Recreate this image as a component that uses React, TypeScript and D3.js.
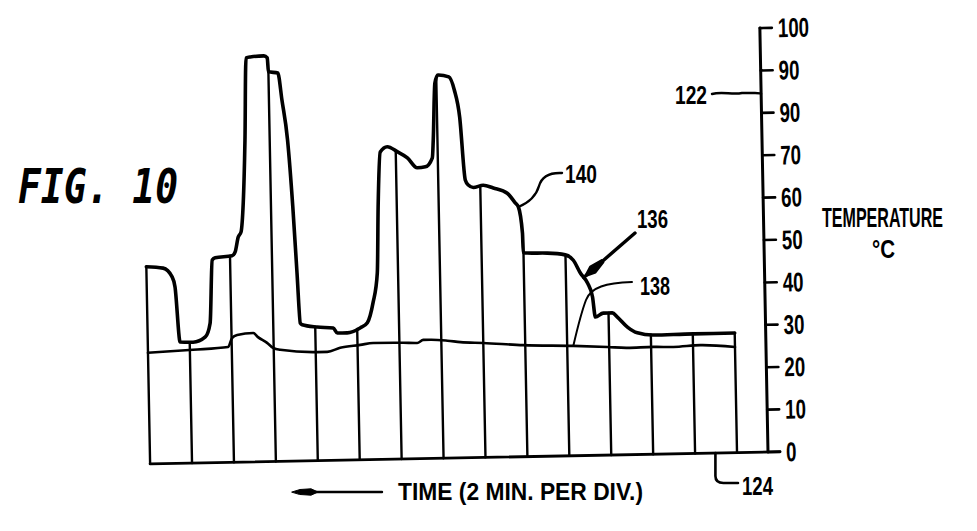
import React from "react";
import * as d3 from "d3";

// Upper trace (curve 136 / 140): time in minutes, temperature in °C
const upperTimes = [0, 0.8, 1.22, 1.35, 1.54, 2.16, 2.75, 2.99, 3.15, 3.29, 4.1, 4.25, 4.41, 4.55, 4.68, 4.82, 4.95, 5.15, 5.8, 5.96, 6.0, 6.45, 6.62, 6.85, 7.04, 7.18, 7.29, 7.38, 8.09, 8.86, 9.05, 9.52, 10.14, 10.49, 10.78, 11.01, 11.11, 11.26, 11.6, 12.07, 12.55, 13.01, 13.4, 13.74, 13.8, 13.93, 14.08, 14.6, 14.85, 15.08, 15.29, 15.43, 15.67, 16.14, 16.62, 17.28, 17.65, 17.8, 17.97, 17.99, 18.18, 19.14, 19.99, 20.37, 20.7, 21.02, 21.25, 21.37, 21.75, 22.18, 22.42, 22.89, 23.36, 24.12, 26.03, 28.0];
const upperValues = [46.5, 46.1, 44.0, 41.6, 28.6, 28.5, 29.7, 32.9, 47.8, 48.3, 48.7, 49.6, 53.1, 54.3, 61.1, 75.9, 95.3, 95.5, 95.7, 95.2, 91.9, 91.6, 85.2, 75.8, 60.0, 44.4, 32.5, 32.1, 31.5, 31.2, 30.0, 30.0, 31.1, 32.3, 37.0, 44.0, 59.6, 72.5, 73.7, 72.5, 71.0, 68.6, 68.8, 70.9, 75.1, 88.5, 90.4, 89.9, 86.8, 80.4, 65.5, 64.3, 63.7, 64.2, 63.5, 62.2, 59.9, 58.9, 52.7, 48.2, 48.0, 47.9, 47.4, 46.1, 43.0, 40.7, 37.4, 32.6, 33.5, 33.5, 32.5, 30.1, 28.7, 28.1, 28.2, 28.2];

// Lower trace (curve 138)
const lowerTimes = [0, 2.15, 3.83, 4.02, 4.27, 5.04, 5.26, 5.69, 5.97, 6.31, 8.07, 8.55, 9.17, 10.13, 10.75, 12.19, 12.85, 13.14, 13.48, 14.29, 14.91, 16.0, 17.9, 20.29, 21.91, 22.87, 24.11, 25.06, 26.35, 28.0];
const lowerValues = [26.2, 26.7, 27.2, 29.3, 30.0, 30.4, 29.4, 28.0, 26.8, 26.3, 25.6, 25.6, 26.5, 27.1, 27.5, 27.4, 27.3, 28.0, 28.0, 27.7, 27.3, 27.0, 26.3, 25.9, 25.5, 25.2, 25.3, 25.2, 25.5, 24.9];

const gridTimes = [0, 2, 4, 6, 8, 10, 12, 14, 16, 18, 20, 22, 24, 26, 28];
const yTickValues = [0, 10, 20, 30, 40, 50, 60, 70, 80, 90, 100];
const yTickLabels = ["0", "10", "20", "30", "40", "50", "60", "70", "90", "90", "100"];

const figTitle = "FIG. 10";
const xLabel = "TIME (2 MIN. PER DIV.)";
const yLabel = "TEMPERATURE";
const yUnit = "°C";
const refLabels = { upper: "140", arrow: "136", lower: "138", axisY: "122", axisX: "124" };

const W = 977;
const H = 531;
const ANG = -1.1; // the scanned figure is slightly tilted
const SANS = "'Liberation Sans', Arial, sans-serif";

function interp(ts: number[], vs: number[], t: number) {
  const i = d3.bisectLeft(ts, t);
  if (i <= 0) return vs[0];
  if (i >= ts.length) return vs[vs.length - 1];
  if (ts[i] === t) return vs[i];
  const t0 = ts[i - 1], t1 = ts[i];
  return vs[i - 1] + ((vs[i] - vs[i - 1]) * (t - t0)) / (t1 - t0);
}

function Condensed(props: { x: number; y: number; w: number; sx: number; size: number; children: string }) {
  const { x, y, w, sx, size, children } = props;
  return (
    <g transform={`translate(${x},${y}) scale(${sx},1)`}>
      <text x={0} y={0} fontSize={size} textLength={w / sx} lengthAdjust="spacingAndGlyphs">
        {children}
      </text>
    </g>
  );
}

export default function App() {
  const x = d3.scaleLinear().domain([0, 28]).range([150, 737]);
  const y = d3.scaleLinear().domain([0, 100]).range([452, 28]);
  const axisX = 768;
  const ox = axisX, oy = y(0);

  const tilt = (px: number, py: number): [number, number] => {
    const a = (ANG * Math.PI) / 180;
    const dx = px - ox, dy = py - oy;
    return [ox + dx * Math.cos(a) - dy * Math.sin(a), oy + dx * Math.sin(a) + dy * Math.cos(a)];
  };

  const upperIdx = upperTimes.map((_, i) => i);
  const lowerIdx = lowerTimes.map((_, i) => i);
  const upperPath = d3
    .line<number>()
    .x((i) => x(upperTimes[i]))
    .y((i) => y(upperValues[i]))
    .curve(d3.curveMonotoneX)(upperIdx) as string;
  const lowerPath = d3
    .line<number>()
    .x((i) => x(lowerTimes[i]))
    .y((i) => y(lowerValues[i]))
    .curve(d3.curveMonotoneX)(lowerIdx) as string;

  // annotation anchors (on data, through the same tilt)
  const a140 = tilt(x(17.8), y(58.9));
  const a136 = tilt(x(20.85), y(42));
  const a138 = tilt(x(20.29), y(interp(lowerTimes, lowerValues, 20.29)));
  const a122 = tilt(axisX, y(84.5));
  const a124 = tilt(x(26.97), y(0));

  // arrow 136
  const tail: [number, number] = [635, 233];
  const ux = tail[0] - a136[0], uy = tail[1] - a136[1];
  const ul = Math.hypot(ux, uy);
  const u = [ux / ul, uy / ul];
  const n = [-u[1], u[0]];
  const P = (d: number, w: number) => `${a136[0] + u[0] * d + n[0] * w},${a136[1] + u[1] * d + n[1] * w}`;
  const spindle = `M${P(1, 0)} L${P(12, 4.2)} L${P(25, 1.6)} L${P(25, -1.6)} L${P(12, -4.2)} Z`;

  return (
    <svg width={W} height={H} style={{ position: "absolute", left: 0, top: 0, background: "#fff" }}>
      <rect x={0} y={0} width={W} height={H} fill="#fff" />
      <text
        x={18}
        y={203}
        fontFamily="'DejaVu Sans Mono', monospace"
        fontStyle="italic"
        fontWeight="bold"
        fontSize={48}
        textLength={160}
        lengthAdjust="spacingAndGlyphs"
      >
        {figTitle}
      </text>

      <g transform={`rotate(${ANG} ${ox} ${oy})`} stroke="#000" fill="none" strokeLinecap="round" strokeLinejoin="round">
        {/* drop lines at each division */}
        {gridTimes.map((t) => (
          <line key={t} x1={x(t)} x2={x(t)} y1={y(0)} y2={y(interp(upperTimes, upperValues, t))} strokeWidth={2.4} />
        ))}
        {/* baseline */}
        <line x1={x(0)} x2={axisX + 12} y1={y(0)} y2={y(0)} strokeWidth={2.8} />
        {/* right axis */}
        <line x1={axisX} x2={axisX} y1={y(0)} y2={y(100)} strokeWidth={3} />
        {yTickValues.map((v, i) => (
          <g key={v}>
            <line x1={axisX} x2={axisX + 12} y1={y(v)} y2={y(v)} strokeWidth={2.6} />
            <text
              x={axisX + 18}
              y={y(v) + 9.5}
              stroke="none"
              fill="#000"
              fontFamily={SANS}
              fontWeight="bold"
              fontSize={27}
              textLength={yTickLabels[i].length * 10.4}
              lengthAdjust="spacingAndGlyphs"
            >
              {yTickLabels[i]}
            </text>
          </g>
        ))}
        {/* traces */}
        <path d={lowerPath} strokeWidth={2.6} />
        <path d={upperPath} strokeWidth={3.6} />
      </g>

      {/* annotations */}
      <g stroke="#000" fill="none" strokeLinecap="round" strokeLinejoin="round">
        <path d={`M${a140[0]},${a140[1]} Q535,200 539,186 Q543,172 562,173`} strokeWidth={2.4} />
        <line x1={a136[0]} y1={a136[1]} x2={tail[0]} y2={tail[1]} strokeWidth={3.4} />
        <path d={spindle} fill="#000" strokeWidth={1.5} />
        <path d={`M632,282 C606,283 591,287 586,300 S577,330 ${a138[0]},${a138[1]}`} strokeWidth={2} />
        <path d={`M712,94 C722,91 732,95 742,93 L755,93 Q761,93 ${a122[0]},${a122[1]}`} strokeWidth={2.4} />
        <path d={`M${a124[0]},${a124[1]} L${a124[0]},476 Q${a124[0]},483 ${a124[0] + 8},483 L738,483`} strokeWidth={2.6} />
        <line x1={300} y1={492} x2={382} y2={492} strokeWidth={2.4} />
        <path d="M292,492 L300,489.5 L311,488.8 L318,492 L311,495.2 L300,494.5 Z" fill="#000" strokeWidth={1} />
      </g>

      <g fill="#000" fontFamily={SANS} fontWeight="bold" fontSize={25}>
        <text x={565} y={183} textLength={32} lengthAdjust="spacingAndGlyphs">{refLabels.upper}</text>
        <text x={637} y={228} textLength={31} lengthAdjust="spacingAndGlyphs">{refLabels.arrow}</text>
        <text x={640} y={295} textLength={30} lengthAdjust="spacingAndGlyphs">{refLabels.lower}</text>
        <text x={675} y={104} textLength={32} lengthAdjust="spacingAndGlyphs">{refLabels.axisY}</text>
        <text x={742} y={495} textLength={31} lengthAdjust="spacingAndGlyphs">{refLabels.axisX}</text>
        <Condensed x={822} y={227} w={121} sx={0.6} size={27}>{yLabel}</Condensed>
        <text x={872} y={258} fontSize={26} textLength={23} lengthAdjust="spacingAndGlyphs">{yUnit}</text>
        <text x={398} y={500} fontSize={23} textLength={245} lengthAdjust="spacingAndGlyphs">{xLabel}</text>
      </g>
    </svg>
  );
}
